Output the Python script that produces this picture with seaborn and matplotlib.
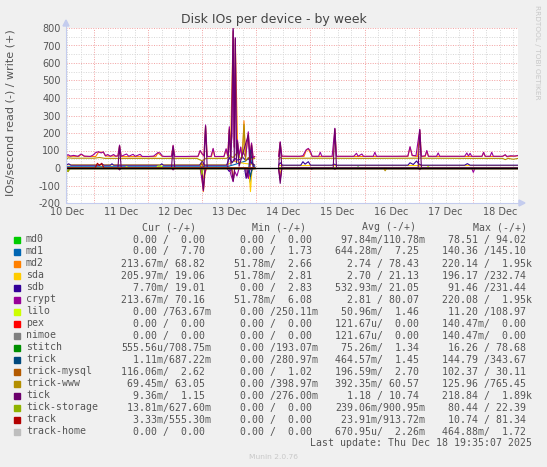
import matplotlib
matplotlib.use("Agg")
import matplotlib.pyplot as plt
from matplotlib.patches import Rectangle, Polygon
from matplotlib.lines import Line2D
from matplotlib.ticker import MultipleLocator, FuncFormatter
import seaborn as sns
import pandas as pd

# time is in days after 10 Dec 00:00, values in IOs/second
# data is missing between ~13 Dec 23:00 and 14 Dec 10:00
crypt_w = [(0.48, 70), (0.52, 76), (0.56, 68), (0.62, 72), (0.70, 67), (0.76, 80), (0.82, 68), (0.93, 66),
           (0.98, 74), (1.03, 88), (1.08, 93), (1.13, 86), (1.17, 92), (1.21, 70), (1.25, 77), (1.30, 67),
           (1.36, 77), (1.40, 67), (1.44, 70), (1.47, 131), (1.50, 67), (1.60, 80), (1.64, 67), (1.72, 78),
           (1.76, 67), (1.85, 78), (1.89, 66), (2.00, 66), (2.10, 68), (2.18, 88), (2.22, 86), (2.26, 68),
           (2.30, 66), (2.43, 67), (2.46, 130), (2.49, 66), (2.70, 66), (2.80, 67), (2.92, 67), (2.96, 100),
           (3.00, 80), (3.03, 70), (3.06, 246), (3.09, 66), (3.16, 66), (3.20, 112), (3.23, 66), (3.40, 66),
           (3.44, 110), (3.47, 70), (3.50, 236), (3.52, 90), (3.55, 180), (3.57, 790), (3.59, 120), (3.61, 745),
           (3.63, 110), (3.65, 160), (3.68, 70), (3.71, 120), (3.73, 66), (3.76, 90), (3.80, 60), (3.85, 207),
           (3.88, 70), (3.91, 143), (3.94, 60), (3.97, 66),
           (4.41, 66), (4.44, 150), (4.47, 68), (4.60, 67), (4.80, 67), (4.86, 70), (4.92, 104), (4.96, 112),
           (5.00, 95), (5.03, 67), (5.15, 67), (5.18, 90), (5.21, 67), (5.40, 67), (5.45, 227), (5.48, 67),
           (5.80, 67), (5.85, 84), (5.88, 67), (5.95, 80), (5.98, 67), (6.16, 67), (6.19, 90), (6.22, 67),
           (6.60, 67), (6.80, 68), (6.84, 122), (6.88, 72), (6.95, 70), (7.02, 221), (7.05, 67), (7.12, 70),
           (7.15, 100), (7.18, 67), (7.33, 67), (7.36, 86), (7.39, 67), (7.85, 67), (7.89, 86), (7.92, 68),
           (7.95, 84), (7.98, 67), (8.17, 67), (8.20, 90), (8.23, 67), (8.32, 67), (8.35, 90), (8.38, 67),
           (8.55, 67), (8.60, 76), (8.63, 66), (8.70, 70), (8.78, 68), (8.84, 72)]
crypt_r = [(0.48, -2), (1.44, -1), (1.47, -10), (1.50, -1), (2.43, -1), (2.46, -10), (2.49, -1), (2.96, -1),
           (2.99, -60), (3.02, -130), (3.04, -40), (3.07, -1), (3.50, -1), (3.53, -40), (3.57, -78), (3.60, -20),
           (3.64, -46), (3.68, -1), (3.82, -1), (3.85, -60), (3.88, -10), (3.97, -1),
           (4.41, -1), (4.44, -69), (4.47, -1), (5.00, -1), (5.02, -8), (5.05, -1), (7.98, -1), (8.01, -25),
           (8.04, -1), (8.84, -1)]
md2_w = [(0.48, 68), (0.72, 66), (0.76, 78), (0.82, 66), (1.03, 66), (1.08, 90), (1.17, 90), (1.21, 68),
         (1.44, 68), (1.47, 128), (1.50, 65), (2.14, 65), (2.18, 86), (2.26, 66), (2.43, 65), (2.46, 127),
         (2.49, 65), (2.92, 65), (2.96, 98), (3.00, 78), (3.03, 68), (3.06, 240), (3.09, 65), (3.17, 65),
         (3.20, 108), (3.23, 65), (3.40, 65), (3.44, 105), (3.47, 68), (3.50, 230), (3.52, 88), (3.57, 780),
         (3.59, 118), (3.61, 735), (3.65, 155), (3.68, 68), (3.71, 118), (3.74, 65), (3.77, 270), (3.80, 58),
         (3.85, 200), (3.88, 68), (3.91, 140), (3.94, 58), (3.97, 64),
         (4.41, 65), (4.44, 146), (4.47, 66), (4.88, 66), (4.92, 100), (4.96, 108), (5.03, 66), (5.42, 66),
         (5.45, 222), (5.48, 66), (6.80, 66), (6.84, 118), (6.88, 70), (6.98, 66), (7.02, 216), (7.05, 66),
         (7.12, 66), (7.15, 96), (7.18, 66), (8.17, 66), (8.20, 88), (8.23, 66), (8.55, 66), (8.60, 74),
         (8.63, 64), (8.84, 70)]
md2_r = [(0.48, -1), (2.97, -1), (3.00, -80), (3.02, -135), (3.05, -30), (3.08, -1), (3.55, -1), (3.57, -70),
         (3.60, -1), (3.97, -1), (4.41, -1), (4.44, -60), (4.47, -1), (8.84, -1)]
trick_www_w = [(0.48, 50), (0.52, 58), (0.60, 56), (1.00, 56), (1.10, 60), (1.20, 55), (2.00, 55), (2.90, 55),
               (3.00, 40), (3.06, 55), (3.45, 55), (3.50, 70), (3.57, 60), (3.65, 90), (3.70, 55), (3.74, 60),
               (3.77, 250), (3.80, 40), (3.85, 60), (3.91, 50), (3.97, 55),
               (4.41, 50), (4.44, 60), (4.47, 55), (5.00, 56), (6.00, 55), (7.00, 56), (8.00, 55), (8.55, 55),
               (8.60, 48), (8.65, 55), (8.75, 50), (8.84, 55)]
trick_www_r = [(0.48, -15), (0.52, -21), (0.56, 0), (3.97, 0), (4.41, 0), (6.35, 0), (6.38, -16), (6.41, 0),
               (8.84, 0)]
sdb_w = [(0.48, 16), (0.53, 24), (0.57, 16), (1.10, 16), (1.14, 24), (1.18, 16), (1.30, 16), (1.33, 24),
         (1.36, 16), (2.22, 16), (2.25, 24), (2.28, 16), (2.95, 16), (3.00, 40), (3.04, 16), (3.45, 16),
         (3.50, 60), (3.55, 30), (3.60, 55), (3.64, 45), (3.70, 50), (3.75, 60), (3.80, 45), (3.85, 55),
         (3.90, 30), (3.97, 16),
         (4.41, 16), (4.44, 30), (4.48, 16), (4.82, 16), (4.86, 36), (4.90, 22), (4.96, 36), (5.00, 16),
         (5.40, 16), (5.44, 22), (5.48, 16), (6.80, 16), (6.84, 30), (6.90, 20), (6.96, 40), (7.00, 24),
         (7.05, 16), (7.85, 16), (7.90, 25), (7.95, 16), (8.84, 16)]
sdb_r = [(0.48, 0), (3.45, 0), (3.50, -20), (3.55, 0), (3.78, 0), (3.81, -59), (3.84, -40), (3.87, 0),
         (3.97, 0), (4.41, 0), (8.84, 0)]
sda_w = [(0.48, 18), (3.45, 18), (3.60, 40), (3.70, 30), (3.97, 18), (4.41, 18), (8.84, 18)]
sda_r = [(0.48, 0), (2.96, 0), (2.99, -36), (3.02, -60), (3.05, 0), (3.86, 0), (3.89, -135), (3.92, 0),
         (3.97, 0), (4.41, 0), (4.44, -30), (4.47, 0), (8.84, 0)]
md1_w = [(0.48, 7), (3.45, 7), (3.60, 20), (3.80, 40), (3.88, 60), (3.91, 30), (3.97, 8), (4.41, 8), (8.84, 8)]
md1_r = [(0.48, 0), (3.84, 0), (3.88, -80), (3.91, -20), (3.94, 0), (3.97, 0), (4.41, 0), (8.84, 0)]
tick_w = [(0.48, 1), (1.44, 1), (1.47, 125), (1.50, 1), (2.43, 1), (2.46, 122), (2.49, 1), (3.03, 1),
          (3.06, 238), (3.09, 1), (3.47, 1), (3.50, 220), (3.53, 20), (3.57, 800), (3.59, 40), (3.61, 740),
          (3.63, 30), (3.65, 150), (3.68, 10), (3.85, 190), (3.88, 5), (3.91, 130), (3.94, 2), (3.97, 1),
          (4.41, 1), (4.44, 145), (4.47, 1), (5.42, 1), (5.45, 224), (5.48, 1), (6.99, 1), (7.02, 218),
          (7.05, 1), (8.84, 1)]
tick_r = [(0.48, 0), (1.44, 0), (1.47, -10), (1.50, 0), (2.43, 0), (2.46, -10), (2.49, 0), (2.99, 0),
          (3.02, -125), (3.05, 0), (3.54, 0), (3.57, -75), (3.60, 0), (3.80, 0), (3.82, -55), (3.85, 0),
          (3.97, 0), (4.41, 0), (4.44, -88), (4.47, 0), (5.42, 0), (5.45, -8), (5.48, 0), (6.99, 0),
          (7.02, -10), (7.05, 0), (8.84, 0)]
trick_w = [(0.48, 1), (3.86, 1), (3.89, 100), (3.92, 40), (3.95, 1), (3.97, 1), (4.41, 1), (8.84, 1)]
trick_r = [(0.48, 0), (3.86, 0), (3.89, -50), (3.92, 0), (3.97, 0), (4.41, 0), (8.84, 0)]
trick_mysql_w = [(0.48, 2), (2.96, 2), (2.99, 30), (3.02, 2), (3.97, 2), (4.41, 2), (8.84, 2)]
tick_storage_r = [(0.48, -10), (0.52, -18), (0.55, 0), (2.97, 0), (2.99, -36), (3.02, 0), (3.97, 0),
                  (4.41, 0), (8.84, 0)]
track_w = [(0.48, 0), (1.02, 0), (1.06, 27), (1.10, 15), (1.14, 27), (1.18, 0), (3.97, 0), (4.41, 0), (8.84, 0)]
lilo_w = [(0.48, 0), (1.57, 0), (1.60, 8), (1.63, 0), (2.15, 0), (2.18, 11), (2.24, 11), (2.27, 0), (3.97, 0),
          (4.41, 0), (7.15, 0), (7.17, 8), (7.20, 0), (8.84, 0)]
stitch_w = [(0.48, 0), (3.97, 0), (4.41, 0), (5.85, 0), (5.88, 6), (5.91, 0), (8.84, 0)]
md0_w = [(0.48, 0), (3.97, 0), (4.41, 0), (7.15, 0), (7.18, 6), (7.21, 0), (8.84, 0)]
zero_line = [(0.48, 0), (3.97, 0), (4.41, 0), (8.84, 0)]

# legend table
names = ["md0", "md1", "md2", "sda", "sdb", "crypt", "lilo", "pex", "nimoe", "stitch", "trick",
         "trick-mysql", "trick-www", "tick", "tick-storage", "track", "track-home"]
colors = ["#00CC00", "#0066B3", "#FF8000", "#FFCC00", "#330099", "#990099", "#CCFF00", "#FF0000", "#808080",
          "#008F00", "#00487D", "#B35A00", "#B38F00", "#6B006B", "#8FB300", "#B30000", "#BEBEBE"]
writes = [md0_w, md1_w, md2_w, sda_w, sdb_w, crypt_w, lilo_w, zero_line, zero_line, stitch_w, trick_w,
          trick_mysql_w, trick_www_w, tick_w, zero_line, track_w, zero_line]
reads = [zero_line, md1_r, md2_r, sda_r, sdb_r, crypt_r, zero_line, zero_line, zero_line, zero_line, trick_r,
         zero_line, trick_www_r, tick_r, tick_storage_r, zero_line, zero_line]
cur_r = ["0.00", "0.00", "213.67m", "205.97m", "7.70m", "213.67m", "0.00", "0.00", "0.00", "555.56u", "1.11m",
         "116.06m", "69.45m", "9.36m", "13.81m", "3.33m", "0.00"]
cur_w = ["0.00", "7.70", "68.82", "19.06", "19.01", "70.16", "763.67m", "0.00", "0.00", "708.75m", "687.22m",
         "2.62", "63.05", "1.15", "627.60m", "555.30m", "0.00"]
min_r = ["0.00", "0.00", "51.78m", "51.78m", "0.00", "51.78m", "0.00", "0.00", "0.00", "0.00", "0.00", "0.00",
         "0.00", "0.00", "0.00", "0.00", "0.00"]
min_w = ["0.00", "1.73", "2.66", "2.81", "2.83", "6.08", "250.11m", "0.00", "0.00", "193.07m", "280.97m", "1.02",
         "398.97m", "276.00m", "0.00", "0.00", "0.00"]
avg_r = ["97.84m", "644.28m", "2.74", "2.70", "532.93m", "2.81", "50.96m", "121.67u", "121.67u", "75.26m",
         "464.57m", "196.59m", "392.35m", "1.18", "239.06m", "23.91m", "670.95u"]
avg_w = ["110.78m", "7.25", "78.43", "21.13", "21.05", "80.07", "1.46", "0.00", "0.00", "1.34", "1.45", "2.70",
         "60.57", "10.74", "900.95m", "913.72m", "2.26m"]
max_r = ["78.51", "140.36", "220.14", "196.17", "91.46", "220.08", "11.20", "140.47m", "140.47m", "16.26",
         "144.79", "102.37", "125.96", "218.84", "80.44", "10.74", "464.88m"]
max_w = ["94.02", "145.10", "1.95k", "232.74", "231.44", "1.95k", "108.97", "0.00", "0.00", "78.68", "343.67",
         "30.11", "765.45", "1.89k", "22.39", "81.34", "1.72"]
headers = ["Cur (-/+)", "Min (-/+)", "Avg (-/+)", "Max (-/+)"]
last_update = "Last update: Thu Dec 18 19:35:07 2025"

# long form table for seaborn
rows = []
for name, w, r in zip(names, writes, reads):
    for direction, pts in (("read", r), ("write", w)):
        for t, v in pts:
            seg = 0 if t < 4.2 else 1
            rows.append({"t": t, "v": v, "series": name, "unit": f"{name}-{direction}-{seg}"})
df = pd.DataFrame(rows)
pal = dict(zip(names, colors))

sns.set_style("white")
plt.rcParams['font.family'] = ['DejaVu Sans']

W, H = 547, 467
L, R, T, B = 66, 518, 28, 203
fig = plt.figure(figsize=(W / 100, H / 100), dpi=100, facecolor="#F0F0F0")
ax = fig.add_axes([L / W, 1 - B / H, (R - L) / W, (B - T) / H])
ax.set_facecolor("white")

def px(x, y):
    return (x / W, 1 - y / H)

sns.lineplot(data=df, x="t", y="v", hue="series", hue_order=names, units="unit", estimator=None,
             palette=pal, lw=0.8, legend=False, ax=ax)
ax.axhline(0, color="black", lw=1.0, zorder=5)

ax.set_xlim(0.48, 8.836)
ax.set_ylim(-200, 800)
ax.xaxis.set_major_locator(MultipleLocator(1))
ax.xaxis.set_minor_locator(MultipleLocator(0.25))
ax.yaxis.set_major_locator(MultipleLocator(100))
ax.yaxis.set_minor_locator(MultipleLocator(50))
ax.xaxis.set_major_formatter(FuncFormatter(lambda x, p: ""))

def day_label(x, p):
    if abs((x - 0.5) % 1) < 0.01:
        return f"{10 + int(x)} Dec"
    return ""

ax.xaxis.set_minor_formatter(FuncFormatter(day_label))
ax.yaxis.set_major_formatter(FuncFormatter(lambda y, p: f"{int(y)}"))
ax.set_axisbelow(True)
ax.grid(which="major", color="#F2A0A0", linestyle=(0, (1, 1.5)), lw=0.7)
ax.grid(which="minor", color="#D6D6D6", linestyle=(0, (1, 1.5)), lw=0.7)
ax.tick_params(axis="both", which="both", length=0, labelsize=7, labelcolor="#555555")
ax.tick_params(axis="x", which="minor", pad=3)
ax.tick_params(axis="y", pad=4)
ax.set_xlabel("")
ax.set_ylabel("")
for s in ["top", "right", "left", "bottom"]:
    ax.spines[s].set_visible(False)

# axis lines with arrows
axis_col = "#C4CCEE"
fig.add_artist(Line2D([L / W, L / W], [1 - B / H, 1 - 24 / H], color=axis_col, lw=0.8))
fig.add_artist(Line2D([L / W, 520 / W], [1 - B / H, 1 - B / H], color=axis_col, lw=0.8))
fig.add_artist(Polygon([px(63, 26), px(69, 26), px(66, 20)], closed=True, color=axis_col, transform=fig.transFigure))
fig.add_artist(Polygon([px(519, 200), px(519, 206), px(525, 203)], closed=True, color=axis_col, transform=fig.transFigure))

# texts
fig.text(273.5 / W, 1 - 19 / H, "Disk IOs per device - by week", ha="center", va="center", fontsize=9, color="#444444")
fig.text(11 / W, 1 - 113 / H, "IOs/second read (-) / write (+)", rotation=90, ha="center", va="center",
         fontsize=8, color="#555555")
fig.text(537 / W, 1 - 52 / H, "RRDTOOL / TOBI OETIKER", rotation=270, ha="center", va="center",
         fontsize=5.3, color="#C8C8C8")
fig.text(273.5 / W, 1 - 457 / H, "Munin 2.0.76", ha="center", va="center", fontsize=5.4, color="#C8C8C8")

def fmt(s):
    if s[-1] in "kmu":
        return s[:-1].rjust(6) + s[-1]
    return s.rjust(6) + " "

# legend table, each column placed on its own x so glyph rounding does not add up
mono = "DejaVu Sans Mono"
fs = 7.1
tcol = "#555555"
col_x = [121.2, 228.3, 335.4, 442.5]
head_x = [142.5, 252.5, 362.5, 473.0]
for hx, h in zip(head_x, headers):
    fig.text(hx / W, 1 - 227.5 / H, h, family=mono, fontsize=fs, va="center", color=tcol)
for i, name in enumerate(names):
    y = 239.5 + 12 * i
    fig.text(26 / W, 1 - y / H, name, family=mono, fontsize=fs, va="center", color=tcol)
    cells = [(cur_r[i], cur_w[i]), (min_r[i], min_w[i]), (avg_r[i], avg_w[i]), (max_r[i], max_w[i])]
    for cx, (rv, wv) in zip(col_x, cells):
        fig.text(cx / W, 1 - y / H, fmt(rv) + "/" + fmt(wv), family=mono, fontsize=fs, va="center", color=tcol)
    x0, y0 = px(14, y + 3)
    fig.add_artist(Rectangle((x0, y0), 6 / W, 6 / H, color=colors[i], transform=fig.transFigure))
fig.text(532 / W, 1 - 443.5 / H, last_update, family=mono, fontsize=fs, va="center", ha="right", color=tcol)

fig.savefig("out.png", dpi=100, facecolor=fig.get_facecolor())
